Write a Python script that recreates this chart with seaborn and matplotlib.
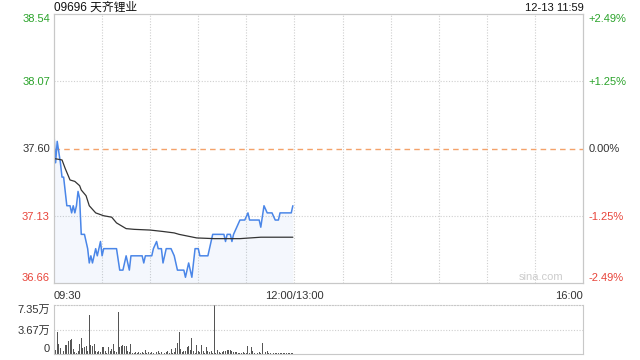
import numpy as np
import pandas as pd
import matplotlib
matplotlib.use("Agg")
import matplotlib.pyplot as plt
import seaborn as sns

# ---------------- data ----------------
title_text = "09696 天齐锂业"
stamp_text = "12-13 11:59"
prev_close = 37.60

price_ticks = [36.66, 37.13, 37.60, 38.07, 38.54]
pct_labels = ["-2.49%", "-1.25%", "0.00%", "+1.25%", "+2.49%"]
x_tick_pos = [0, 150, 330]
x_tick_labels = ["09:30", "12:00/13:00", "16:00"]

# minute index (since 09:30) and price of the intraday line
price_min = [0, 1, 2, 4, 5, 6, 8, 10, 11, 12, 13, 14, 15, 16, 17, 19, 21, 22, 23, 24,
             26, 27, 29, 30, 31, 39, 41, 43, 45, 46, 47, 48, 55, 56, 57, 61, 62, 64,
             65, 67, 68, 70, 73, 75, 77, 81, 82, 84, 86, 88, 90, 91, 96, 97, 99, 106,
             107, 108, 110, 111, 112, 114, 116, 119, 121, 122, 128, 129, 131, 133,
             136, 138, 140, 141, 148, 149]
price_val = [37.70, 37.50, 37.65, 37.50, 37.40, 37.40, 37.20, 37.20, 37.15, 37.20,
             37.15, 37.20, 37.30, 37.25, 37.00, 37.00, 36.90, 36.80, 36.85, 36.80,
             36.90, 36.85, 36.95, 36.85, 36.90, 36.90, 36.75, 36.75, 36.85, 36.80,
             36.75, 36.85, 36.85, 36.80, 36.85, 36.85, 36.90, 36.95, 36.90, 36.90,
             36.80, 36.90, 36.90, 36.85, 36.75, 36.75, 36.70, 36.80, 36.70, 36.90,
             36.90, 36.85, 36.85, 36.90, 37.00, 37.00, 36.95, 37.00, 37.00, 36.95,
             37.00, 37.05, 37.10, 37.10, 37.15, 37.10, 37.10, 37.05, 37.20, 37.15,
             37.15, 37.10, 37.10, 37.15, 37.15, 37.20]

# average price line
avg_min = [0, 5, 7, 10, 13, 16, 17, 20, 22, 26, 31, 36, 39, 45, 50, 60, 68, 75, 78,
           89, 100, 116, 129, 149]
avg_val = [37.53, 37.52, 37.46, 37.38, 37.37, 37.34, 37.31, 37.27, 37.20, 37.15,
           37.13, 37.12, 37.08, 37.04, 37.035, 37.03, 37.02, 37.01, 37.00, 36.975,
           36.97, 36.97, 36.98, 36.98]

# volume per minute (in 万 shares), minutes 0..149
volume = [1.7, 0.6, 3.3, 1.5, 0.9, 1.1, 0.4, 1.4, 1.3, 1.9,
          2.1, 2.3, 0.7, 0.3, 0.2, 0.4, 1.5, 2.4, 0.9, 1.0,
          1.2, 0.5, 5.8, 1.3, 1.2, 1.5, 0.5, 0.3, 0.5, 0.3,
          1.0, 1.1, 0.4, 0.2, 1.1, 0.5, 0.7, 1.5, 0.5, 0.3,
          6.3, 1.0, 1.2, 1.4, 1.2, 1.2, 0.5, 0.3, 1.5, 0.2,
          0.2, 0.3, 0.2, 0.3, 0.2, 0.3, 0.2, 0.6, 0.2, 0.3,
          0.2, 0.3, 0.2, 1.4, 0.3, 0.5, 0.2, 0.3, 0.9, 0.2,
          0.3, 0.5, 0.2, 0.75, 0.2, 0.3, 0.9, 1.6, 3.3, 0.75,
          0.3, 0.5, 0.5, 1.0, 1.2, 0.6, 2.35, 0.5, 0.2, 1.3,
          0.5, 0.3, 1.3, 0.4, 0.2, 1.1, 0.4, 0.25, 0.4, 0.2,
          7.35, 0.2, 0.6, 0.25, 0.2, 0.25, 0.4, 0.5, 0.6, 0.6,
          0.6, 0.4, 0.25, 0.25, 0.25, 0.2, 0.2, 0.2, 0.3, 0.2,
          0.2, 1.2, 0.2, 1.1, 0.4, 0.2, 0.25, 0.2, 0.25, 0.2,
          1.6, 0.2, 0.25, 0.5, 0.2, 0.2, 0.15, 0.2, 0.15, 0.2,
          0.15, 0.2, 0.15, 0.15, 0.2, 0.15, 0.15, 0.2, 0.15, 0.2]
vol_ticks = [0, 3.67, 7.35]
vol_labels = ["0", "3.67万", "7.35万"]

# ---------------- style ----------------
sns.set_style("white")
plt.rcParams["font.family"] = ["Liberation Sans", "Noto Sans CJK SC", "DejaVu Sans"]

GREEN = "#2aa32a"
RED = "#e8443a"
DARK = "#333333"
GRID = "#cfcfcf"
BLUE = "#4a86e8"

fig = plt.figure(figsize=(6.4, 3.6), dpi=100)
W, H = 640, 360
ax = fig.add_axes([54 / W, 1 - 283 / H, 529 / W, 269 / H])
axv = fig.add_axes([54 / W, 1 - 354 / H, 529 / W, 49 / H])

df_p = pd.DataFrame({"m": price_min, "p": price_val})
df_a = pd.DataFrame({"m": avg_min, "p": avg_val})

ax.fill_between(df_p["m"], df_p["p"], price_ticks[0], color=BLUE, alpha=0.06, lw=0)
sns.lineplot(data=df_p, x="m", y="p", ax=ax, color=BLUE, lw=1.1, estimator=None)
sns.lineplot(data=df_a, x="m", y="p", ax=ax, color="#333333", lw=0.9, estimator=None)

ax.set_xlim(0, 330)
ax.set_ylim(price_ticks[0], price_ticks[-1])
for v in range(30, 330, 30):
    ax.axvline(v, color=GRID, lw=0.8, ls=(0, (1, 1.5)), zorder=0)
for v in [price_ticks[1], price_ticks[3]]:
    ax.axhline(v, color=GRID, lw=0.8, ls=(0, (1, 1.5)), zorder=0)
ax.axhline(prev_close, color="#f4a26a", lw=1.0, ls=(0, (4, 3)), zorder=0)

ax.set_xlabel("")
ax.set_ylabel("")
ax.set_yticks(price_ticks)
ax.set_yticklabels([f"{v:.2f}" for v in price_ticks])
ax.set_xticks(x_tick_pos)
ax.set_xticklabels(x_tick_labels)
ax.tick_params(axis="both", length=0, labelsize=8, colors=DARK)
ax.tick_params(axis="x", pad=6)
ax.tick_params(axis="y", pad=3)

def color_for(i):
    return RED if i < 2 else (DARK if i == 2 else GREEN)

ylabs = ax.get_yticklabels()
for i, t in enumerate(ylabs):
    t.set_color(color_for(i))
ylabs[0].set_va("bottom")
ylabs[-1].set_va("top")
xl = ax.get_xticklabels()
xl[0].set_ha("left")
xl[-1].set_ha("right")

axr = ax.twinx()
axr.set_ylim(price_ticks[0], price_ticks[-1])
axr.set_yticks(price_ticks)
axr.set_yticklabels(pct_labels)
axr.tick_params(axis="y", length=0, labelsize=8, pad=4)
rl = axr.get_yticklabels()
for i, t in enumerate(rl):
    t.set_color(color_for(i))
rl[0].set_va("bottom")
rl[-1].set_va("top")

for a in (ax, axr):
    for s in a.spines.values():
        s.set_color("#c8c8c8")
        s.set_linewidth(0.8)

# watermark, placed in axes-fraction coordinates
ax.text((541 - 54) / 529, 0.005, "sina.com", transform=ax.transAxes,
        color="#cccccc", fontsize=8, ha="center", va="bottom")

fig.text(54 / W, 1 - 11 / H, title_text, fontsize=8.5, color="#111111",
         ha="left", va="baseline")
fig.text(584 / W, 1 - 11 / H, stamp_text, fontsize=8, color="#111111",
         ha="right", va="baseline")

# ---------------- volume ----------------
df_v = pd.DataFrame({"m": np.arange(len(volume)), "v": volume})
sns.barplot(data=df_v, x="m", y="v", ax=axv, native_scale=True, orient="x",
            color="#555555", width=0.6, errorbar=None, linewidth=0, saturation=1)
axv.set_xlim(0, 330)
axv.set_ylim(0, vol_ticks[-1])
axv.axhline(vol_ticks[1], color=GRID, lw=0.8, ls=(0, (1, 1.5)), zorder=0)
axv.set_xlabel("")
axv.set_ylabel("")
axv.set_xticks([])
axv.set_yticks(vol_ticks)
axv.set_yticklabels(vol_labels)
axv.tick_params(axis="y", length=0, labelsize=8, colors=DARK, pad=3)
vl = axv.get_yticklabels()
vl[0].set_va("bottom")
vl[-1].set_va("top")
for k, s in axv.spines.items():
    s.set_color("#c8c8c8")
    s.set_linewidth(0.8)
axv.spines["top"].set_linestyle((0, (1, 1.5)))

fig.savefig("out.png", dpi=100)
